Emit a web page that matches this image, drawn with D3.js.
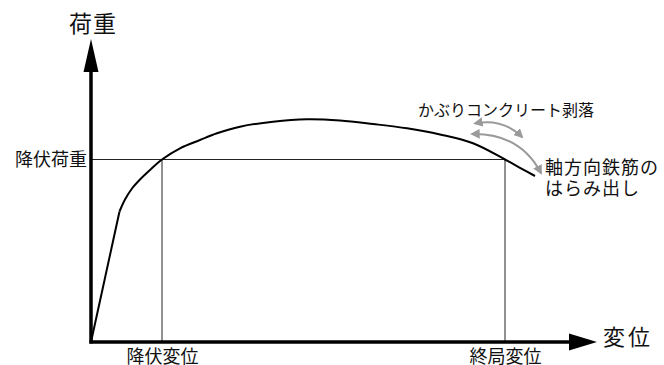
<!DOCTYPE html>
<html lang="ja">
<head>
  <meta charset="UTF-8">
  <title>荷重-変位曲線</title>
  <script src="https://d3js.org/d3.v7.min.js"></script>
  <style>
    body { margin: 0; background: #fff; }
    text { font-family: "Noto Sans CJK JP", sans-serif; fill: #111; }
  </style>
</head>
<body>

<div id="chart"></div>

<script>
  // 荷重-変位曲線 (模式図) のデータ
  const disp = [0, 28.5, 34, 41, 49, 59, 71, 89, 109, 126, 149, 182, 216, 249, 282, 316, 349, 382, 414, 429, 444];
  const load = [0, 130.5, 142.5, 153.5, 162.5, 172, 182.5, 193.7, 202, 208.7, 215.3, 220.3, 222.7, 221.5, 218, 213.7, 207.5, 198.7, 182.5, 174.2, 166];

  // 特性点
  const yieldLoad = 182.5;
  const yieldDisp = 71;
  const ultimateDisp = 414;

  // ラベル
  const xLabels = ["降伏変位", "終局変位"];
  const yLabels = ["降伏荷重"];
  const axisTitles = ["変位", "荷重"];
  const noteTop = "かぶりコンクリート剥落";
  const noteBottom = ["軸方向鉄筋の", "はらみ出し"];

  const width = 664;
  const height = 365;

  const x = d3.scaleLinear().domain([0, 500]).range([91, 591]);
  const y = d3.scaleLinear().domain([0, 300]).range([342, 42]);

  const svg = d3.select("#chart")
    .append("svg")
    .attr("width", width)
    .attr("height", height);

  const defs = svg.append("defs");
  defs.append("marker")
    .attr("id", "gray-head")
    .attr("viewBox", "0 0 10 10")
    .attr("refX", 8)
    .attr("refY", 5)
    .attr("markerWidth", 4.8)
    .attr("markerHeight", 4.8)
    .attr("orient", "auto-start-reverse")
    .append("path")
    .attr("d", "M0,0 L10,5 L0,10 Z")
    .attr("fill", "#9a9a9a");

  // 補助線
  svg.append("line")
    .attr("x1", x(0)).attr("x2", x(ultimateDisp))
    .attr("y1", y(yieldLoad)).attr("y2", y(yieldLoad))
    .attr("stroke", "#222").attr("stroke-width", 1);
  [yieldDisp, ultimateDisp].forEach(d => {
    svg.append("line")
      .attr("x1", x(d)).attr("x2", x(d))
      .attr("y1", y(yieldLoad)).attr("y2", y(0))
      .attr("stroke", "#222").attr("stroke-width", 1);
  });

  // 曲線 (初期の直線部分 + 曲線部分)
  const pts = disp.map((d, i) => [d, load[i]]);
  svg.append("path")
    .attr("d", d3.line().x(d => x(d[0])).y(d => y(d[1]))(pts.slice(0, 2)))
    .attr("fill", "none").attr("stroke", "#000").attr("stroke-width", 2);
  svg.append("path")
    .attr("d", d3.line().curve(d3.curveCatmullRom.alpha(0.5)).x(d => x(d[0])).y(d => y(d[1]))(pts.slice(1)))
    .attr("fill", "none").attr("stroke", "#000").attr("stroke-width", 2);

  // 軸
  svg.append("line")
    .attr("x1", x(0)).attr("x2", x(0))
    .attr("y1", y(0) + 1.5).attr("y2", y(270))
    .attr("stroke", "#000").attr("stroke-width", 3.5);
  svg.append("path")
    .attr("d", `M${x(0)},${y(303)} L${x(0) - 7.5},${y(270)} L${x(0) + 7.5},${y(270)} Z`)
    .attr("fill", "#000");
  svg.append("line")
    .attr("x1", x(0) - 1.5).attr("x2", x(480))
    .attr("y1", y(0)).attr("y2", y(0))
    .attr("stroke", "#000").attr("stroke-width", 3.5);
  svg.append("path")
    .attr("d", `M${x(506)},${y(0)} L${x(478)},${y(0) - 8.5} L${x(478)},${y(0) + 8.5} Z`)
    .attr("fill", "#000");

  // 目盛ラベル
  const xAxis = svg.append("g")
    .attr("transform", `translate(0,${y(0)})`)
    .call(d3.axisBottom(x).tickValues([yieldDisp, ultimateDisp])
      .tickFormat((d, i) => xLabels[i]).tickSize(0));
  xAxis.select(".domain").remove();
  xAxis.selectAll("text")
    .attr("y", 20.5).attr("dy", 0)
    .style("font-size", "18px")
    .style("font-family", "\"Noto Sans CJK JP\", sans-serif")
    .attr("fill", "#111");

  const yAxis = svg.append("g")
    .attr("transform", `translate(${x(0)},0)`)
    .call(d3.axisLeft(y).tickValues([yieldLoad])
      .tickFormat((d, i) => yLabels[i]).tickSize(0).tickPadding(4));
  yAxis.select(".domain").remove();
  yAxis.selectAll("text")
    .attr("dy", "0.33em")
    .style("font-size", "18px")
    .style("font-family", "\"Noto Sans CJK JP\", sans-serif")
    .attr("fill", "#111");

  // 軸タイトル
  svg.append("text")
    .attr("x", 603).attr("y", 345)
    .attr("font-size", 22).attr("letter-spacing", 3)
    .text(axisTitles[0]);
  svg.append("text")
    .attr("x", 93).attr("y", 32)
    .attr("text-anchor", "middle")
    .attr("font-size", 23).attr("letter-spacing", 1)
    .text(axisTitles[1]);

  // 注記の矢印
  const arrows = [
    { from: [384, 218.7], ctrl: [412, 224], to: [431, 205] },
    { from: [381, 208], ctrl: [429, 209], to: [450, 169] }
  ];
  svg.selectAll("path.note")
    .data(arrows)
    .enter()
    .append("path")
    .attr("class", "note")
    .attr("d", d => `M${x(d.from[0])},${y(d.from[1])} Q${x(d.ctrl[0])},${y(d.ctrl[1])} ${x(d.to[0])},${y(d.to[1])}`)
    .attr("fill", "none")
    .attr("stroke", "#9a9a9a")
    .attr("stroke-width", 2)
    .attr("marker-start", "url(#gray-head)")
    .attr("marker-end", "url(#gray-head)");

  // 注記
  svg.append("text")
    .attr("x", 418).attr("y", 115.5)
    .attr("font-size", 16)
    .text(noteTop);
  noteBottom.forEach((t, i) => {
    svg.append("text")
      .attr("x", 545).attr("y", 173.5 + i * 21.5)
      .attr("font-size", 18).attr("letter-spacing", 1)
      .text(t);
  });
</script>

</body>
</html>
